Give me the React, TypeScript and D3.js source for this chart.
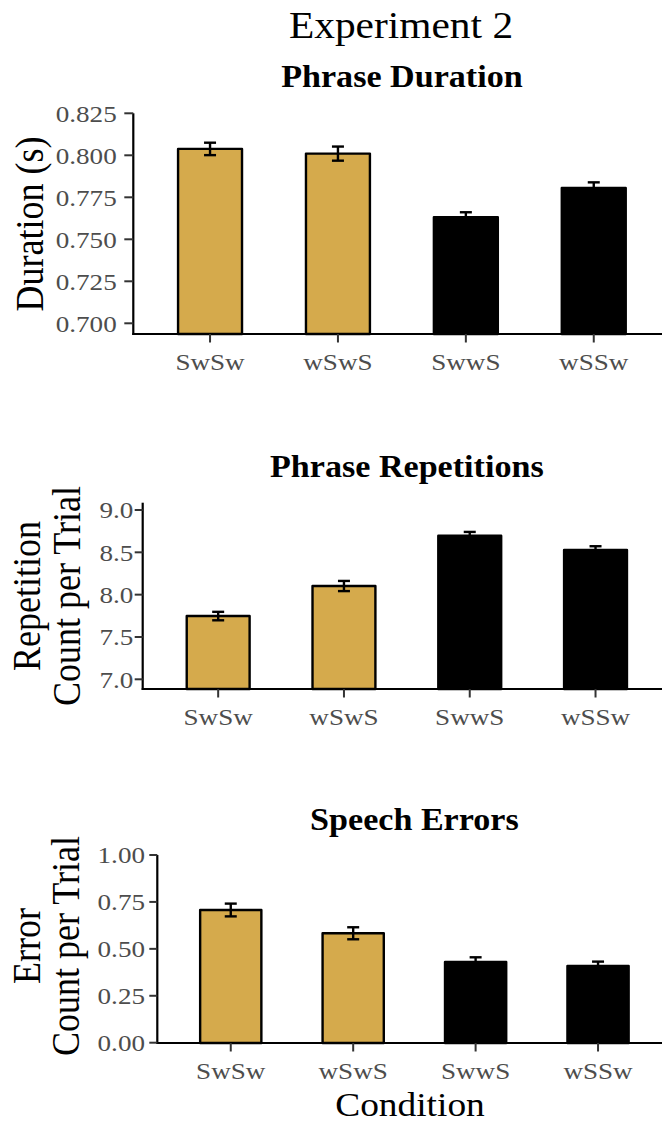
import React from "react";
import * as d3 from "d3";

const categories = ["SwSw", "wSwS", "SwwS", "wSSw"];
const barColors = ["#D5AA4C", "#D5AA4C", "#000000", "#000000"];

const durationMeans = [0.8038, 0.801, 0.7631, 0.7805];
const durationSE = [0.0037, 0.0042, 0.003, 0.0034];
const durationTicks = [0.7, 0.725, 0.75, 0.775, 0.8, 0.825];

const repetitionMeans = [7.747, 8.102, 8.696, 8.527];
const repetitionSE = [0.05, 0.06, 0.045, 0.045];
const repetitionTicks = [7.0, 7.5, 8.0, 8.5, 9.0];

const errorMeans = [0.707, 0.583, 0.43, 0.409];
const errorSE = [0.034, 0.032, 0.025, 0.023];
const errorTicks = [0, 0.25, 0.5, 0.75, 1.0];

const FONT = "'Liberation Serif', 'Times New Roman', serif";
const TICK_SIZE = 24;
const TICK_SX = 1.13;

type Panel = {
  title: string;
  titleY: number;
  yLabel: string[];
  yLabelX: number[];
  yLabelCY: number;
  axisX: number;
  right: number;
  axisTop: number;
  axisBottom: number;
  domain: [number, number];
  range: [number, number];
  ticks: number[];
  fmt: string;
  labelEnd: number;
  tickLen: number;
  means: number[];
  se: number[];
};

const panels: Panel[] = [
  {
    title: "Phrase Duration",
    titleY: 87.3,
    yLabel: ["Duration (s)"],
    yLabelX: [42.7],
    yLabelCY: 224,
    axisX: 133.3,
    right: 670.5,
    axisTop: 113.3,
    axisBottom: 334,
    domain: [0.7, 0.825],
    range: [323.3, 113.3],
    ticks: durationTicks,
    fmt: ".3f",
    labelEnd: 116.7,
    tickLen: 9,
    means: durationMeans,
    se: durationSE,
  },
  {
    title: "Phrase Repetitions",
    titleY: 477,
    yLabel: ["Repetition", "Count per Trial"],
    yLabelX: [40, 79.5],
    yLabelCY: 596,
    axisX: 142.7,
    right: 671,
    axisTop: 502.7,
    axisBottom: 689,
    domain: [7, 9],
    range: [679.3, 510],
    ticks: repetitionTicks,
    fmt: ".1f",
    labelEnd: 133.3,
    tickLen: 8,
    means: repetitionMeans,
    se: repetitionSE,
  },
  {
    title: "Speech Errors",
    titleY: 830,
    yLabel: ["Error", "Count per Trial"],
    yLabelX: [40, 78.5],
    yLabelCY: 946,
    axisX: 157.3,
    right: 671.5,
    axisTop: 855,
    axisBottom: 1043,
    domain: [0, 1],
    range: [1042.7, 855],
    ticks: errorTicks,
    fmt: ".2f",
    labelEnd: 145,
    tickLen: 8,
    means: errorMeans,
    se: errorSE,
  },
];

function PanelView({ p, showXTitle }: { p: Panel; showXTitle: boolean }) {
  const x = d3
    .scaleBand<string>()
    .domain(categories)
    .range([p.axisX, p.right])
    .paddingInner(0.5)
    .paddingOuter(0.35);
  const y = d3.scaleLinear().domain(p.domain).range(p.range);
  const fmt = d3.format(p.fmt);
  const panelCX = (p.axisX + p.right) / 2;
  const bw = x.bandwidth();
  return (
    <g>
      {categories.map((c, i) => {
        const x0 = x(c) as number;
        const top = y(p.means[i]);
        return (
          <rect
            key={"b" + c}
            x={x0}
            y={top}
            width={bw}
            height={p.axisBottom - top}
            fill={barColors[i]}
            stroke="#000"
            strokeWidth={2.4}
            strokeLinejoin="round"
          />
        );
      })}
      {categories.map((c, i) => {
        const cx = (x(c) as number) + bw / 2;
        const hi = y(p.means[i] + p.se[i]);
        const lo = y(p.means[i] - p.se[i]);
        const hw = 6;
        return (
          <g key={"e" + c} stroke="#000" strokeWidth={2.4}>
            <line x1={cx} x2={cx} y1={hi} y2={lo} />
            <line x1={cx - hw} x2={cx + hw} y1={hi} y2={hi} />
            <line x1={cx - hw} x2={cx + hw} y1={lo} y2={lo} />
          </g>
        );
      })}
      <line x1={p.axisX} x2={p.axisX} y1={p.axisTop} y2={p.axisBottom + 1} stroke="#000" strokeWidth={2.2} />
      <line x1={p.axisX - 1} x2={p.right} y1={p.axisBottom} y2={p.axisBottom} stroke="#000" strokeWidth={2.2} />
      {p.ticks.map((t) => (
        <g key={"yt" + t}>
          <line
            x1={p.axisX - p.tickLen}
            x2={p.axisX}
            y1={y(t)}
            y2={y(t)}
            stroke="#333"
            strokeWidth={2}
          />
          <text
            transform={`translate(${p.labelEnd},${y(t) + 8.3}) scale(${TICK_SX},1)`}
            textAnchor="end"
            fontFamily={FONT}
            fontSize={TICK_SIZE}
            fill="#4D4D4D"
          >
            {fmt(t)}
          </text>
        </g>
      ))}
      {categories.map((c) => {
        const cx = (x(c) as number) + bw / 2;
        return (
          <g key={"xt" + c}>
            <line x1={cx} x2={cx} y1={p.axisBottom} y2={p.axisBottom + 8.5} stroke="#333" strokeWidth={2} />
            <text
              transform={`translate(${cx},${p.axisBottom + 35.5}) scale(${TICK_SX},1)`}
              textAnchor="middle"
              fontFamily={FONT}
              fontSize={TICK_SIZE}
              fill="#4D4D4D"
            >
              {c}
            </text>
          </g>
        );
      })}
      <text
        transform={`translate(${panelCX},${p.titleY}) scale(1.1,1)`}
        textAnchor="middle"
        fontFamily={FONT}
        fontWeight="bold"
        fontSize={31}
        fill="#000"
      >
        {p.title}
      </text>
      {p.yLabel.map((l, k) => (
        <text
          key={"yl" + k}
          transform={`translate(${p.yLabelX[k]},${p.yLabelCY}) scale(1.1,1) rotate(-90)`}
          textAnchor="middle"
          fontFamily={FONT}
          fontSize={36}
          fill="#000"
        >
          {l}
        </text>
      ))}
      {showXTitle && (
        <text
          transform={`translate(410,1116) scale(1.1,1)`}
          textAnchor="middle"
          fontFamily={FONT}
          fontSize={34}
          fill="#000"
        >
          Condition
        </text>
      )}
    </g>
  );
}

export default function App() {
  return (
    <svg
      width={662}
      height={1124}
      viewBox="0 0 662 1124"
      style={{ position: "absolute", left: 0, top: 0, display: "block", background: "#fff" }}
    >
      <rect x={0} y={0} width={662} height={1124} fill="#fff" />
      <text
        transform="translate(401,38.3) scale(1.09,1)"
        textAnchor="middle"
        fontFamily={FONT}
        fontSize={38}
        fill="#000"
      >
        Experiment 2
      </text>
      {panels.map((p, i) => (
        <PanelView key={p.title} p={p} showXTitle={i === panels.length - 1} />
      ))}
    </svg>
  );
}
